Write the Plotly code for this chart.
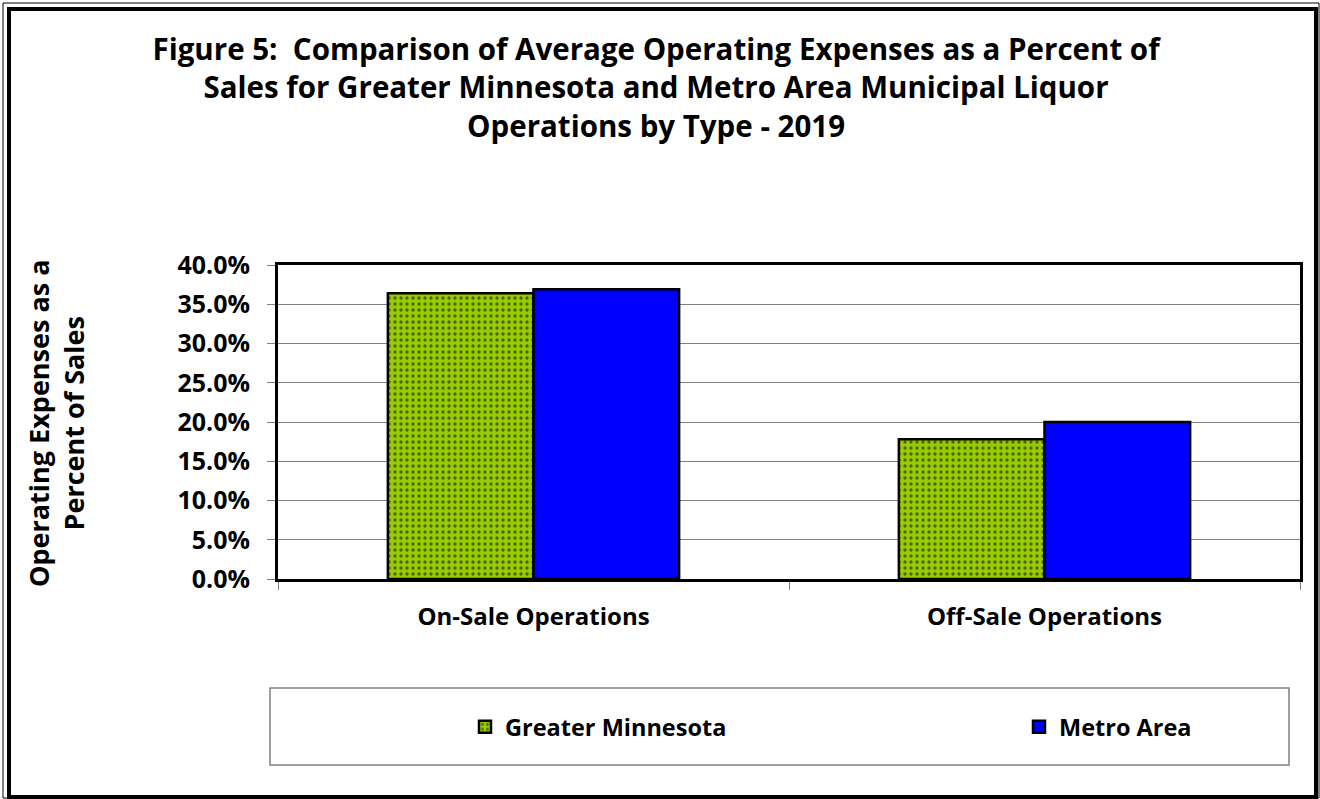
import plotly.graph_objects as go

# data
categories = ["On-Sale Operations", "Off-Sale Operations"]
greater_mn = [36.4, 17.8]
metro_area = [36.9, 20.0]
y_ticks = [0, 5, 10, 15, 20, 25, 30, 35, 40]
y_tick_labels = ["%.1f%%" % v for v in y_ticks]

W, H = 1320, 799
# plot area in page pixels
L, R, T, B = 278, 1300, 265, 579
FONT = "Open Sans"


def px_x(x):
    return (x - L) / (R - L)


def px_y(y):
    return (B - y) / (B - T)


def rect(x0, y0, x1, y1, color, width):
    return dict(type="rect", xref="paper", yref="paper",
                x0=px_x(x0), x1=px_x(x1), y0=px_y(y1), y1=px_y(y0),
                line=dict(color=color, width=width), fillcolor="rgba(0,0,0,0)",
                layer="above")


def legend_at(x):
    return dict(x=px_x(x), xanchor="left", y=px_y(727), yanchor="middle",
                orientation="h", bgcolor="rgba(0,0,0,0)", borderwidth=0,
                font=dict(size=23.5, family=FONT, color="black"))


xpos = list(range(len(categories)))

fig = go.Figure()
fig.add_trace(go.Bar(
    x=xpos, y=greater_mn, name="<b>Greater Minnesota</b>", legend="legend",
    marker=dict(color="#99CC00",
                line=dict(color="black", width=2.5),
                pattern=dict(shape=".", fgcolor="black", bgcolor="#99CC00",
                             size=6, solidity=0.25)),
))
fig.add_trace(go.Bar(
    x=xpos, y=metro_area, name="<b>Metro Area</b>", legend="legend2",
    marker=dict(color="#0000FF", line=dict(color="black", width=2.5)),
))

fig.update_layout(
    width=W, height=H,
    margin=dict(l=L, r=W - R, t=T, b=H - B),
    paper_bgcolor="white", plot_bgcolor="white",
    barmode="group", bargap=0.43, bargroupgap=0,
    font=dict(family=FONT, color="black", size=21),
    title=dict(
        text="<b>Figure 5:  Comparison of Average Operating Expenses as a Percent of<br>"
             "Sales for Greater Minnesota and Metro Area Municipal Liquor<br>"
             "Operations by Type - 2019</b>",
        x=0.497, xref="container", xanchor="center",
        y=1 - 60 / H, yref="container", yanchor="top",
        font=dict(size=29.5, family=FONT, color="black"),
    ),
    xaxis=dict(
        range=[-0.5, 1.5], tickvals=xpos, ticktext=["<b>%s</b>" % c for c in categories],
        ticks="", showgrid=False, zeroline=False,
        showline=True, linecolor="black", linewidth=3, mirror=True,
        ticklabelstandoff=14,
        minor=dict(tickvals=[-0.5, 0.5, 1.5], ticks="outside", ticklen=8,
                   tickcolor="#808080", tickwidth=1, showgrid=False),
        tickfont=dict(size=24),
    ),
    yaxis=dict(
        range=[0, 40], tickvals=y_ticks,
        ticktext=["<b>%s</b>" % t for t in y_tick_labels],
        ticks="outside", ticklen=8, tickcolor="#808080", tickwidth=1,
        showgrid=True, gridcolor="#808080", gridwidth=1, zeroline=False,
        showline=True, linecolor="black", linewidth=3, mirror=True,
        ticklabelstandoff=12,
        tickfont=dict(size=25),
    ),
    legend=legend_at(465),
    legend2=legend_at(1019),
    showlegend=True,
    annotations=[dict(
        text="<b>Operating Expenses as a<br>Percent of Sales</b>",
        xref="paper", yref="paper", x=px_x(56), y=px_y(424),
        xanchor="center", yanchor="middle", textangle=-90,
        showarrow=False, font=dict(size=27, family=FONT, color="black"),
    )],
    shapes=[
        rect(270, 688, 1289, 765, "#808080", 1.5),
        rect(3, 3, W - 1, H - 1, "black", 1),
        rect(9, 9, 1316, 797, "black", 4),
    ],
)

fig.write_html("out.html", config={"displayModeBar": False},
               post_script="document.body.style.margin='0';"
                           "document.body.style.overflow='hidden';")
